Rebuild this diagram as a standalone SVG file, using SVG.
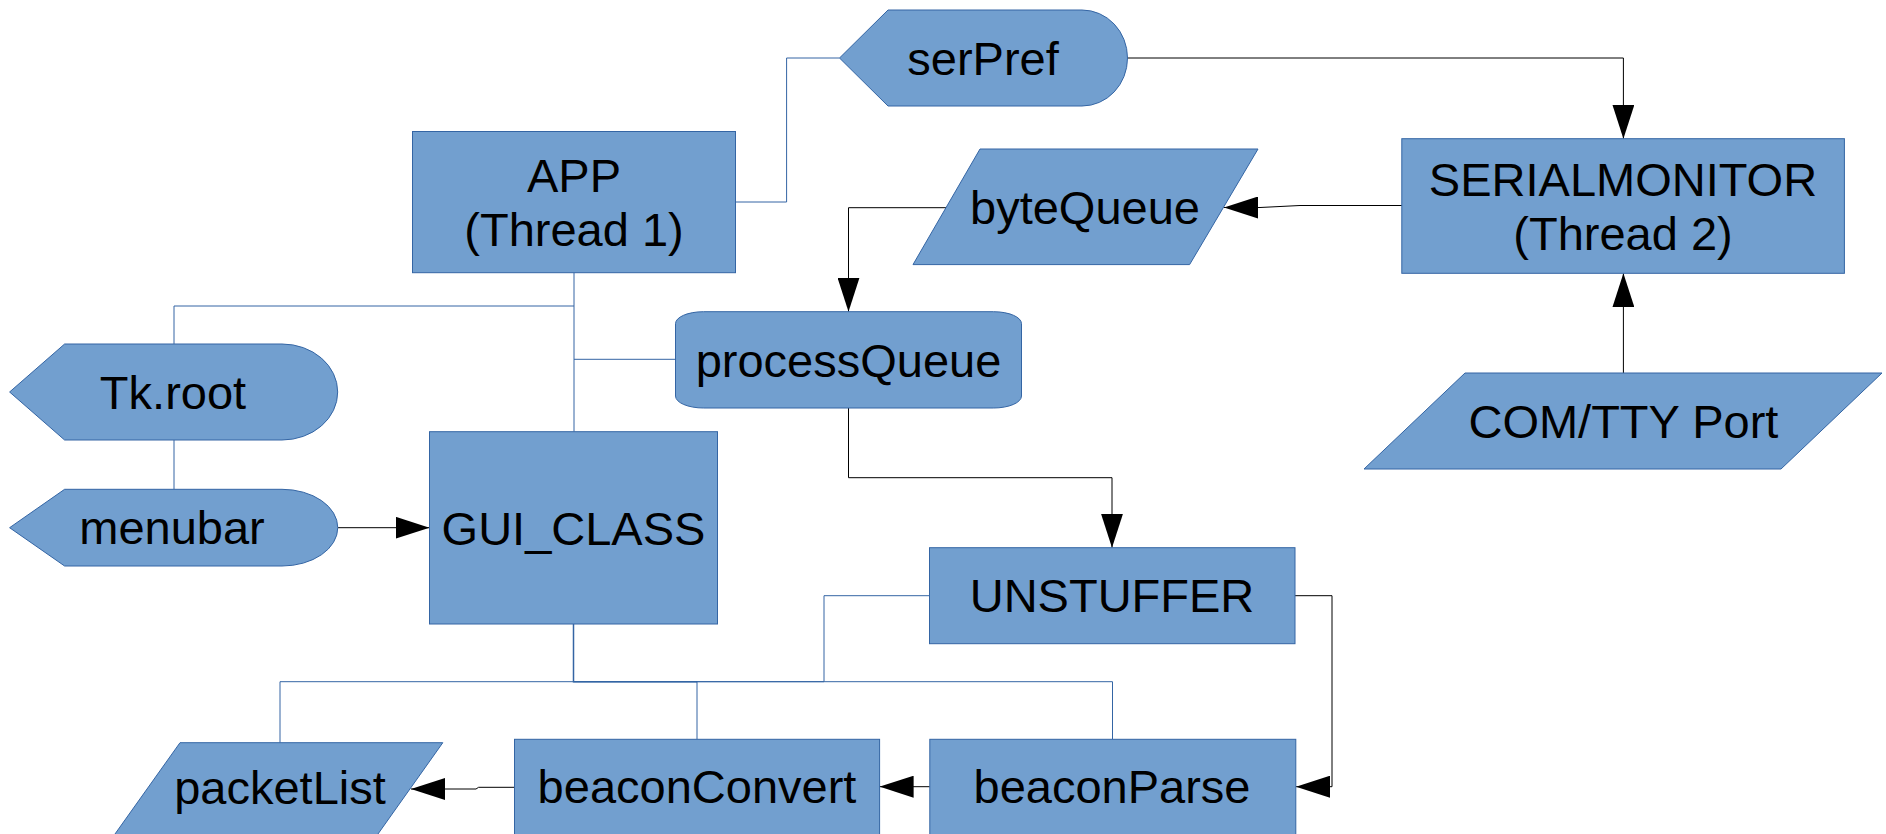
<svg xmlns="http://www.w3.org/2000/svg" width="1886" height="834" viewBox="0 0 1886 834">
<style>
.n{fill:#729fcf;stroke:#3465a4;stroke-width:1}
.t{font-family:"Liberation Sans",Arial,sans-serif;font-size:47px;fill:#000;text-anchor:middle}
.b{fill:none;stroke:#3465a4;stroke-width:1}
.k{fill:none;stroke:#000;stroke-width:1;marker-end:url(#ar)}
</style>
<defs>
<marker id="ar" markerUnits="userSpaceOnUse" markerWidth="34" markerHeight="22" refX="34" refY="11" orient="auto">
<path d="M0,0 L34,11 L0,22 Z" fill="#000"/>
</marker>
</defs>
<rect width="1886" height="834" fill="#fff"/>
<g id="connectors">
<path class="b" d="M735,202 H786.6 V58 H839.5"/>
<path class="k" d="M1127.5,58 H1623.4 V138.7"/>
<path class="k" d="M1402,205.5 H1300 L1260,207.5 H1224"/>
<path class="k" d="M1623.4,373 V273.3"/>
<path class="k" d="M946,207.7 H848.5 V311.7"/>
<path class="b" d="M574,272.7 V431.7"/>
<path class="b" d="M574,306 H174 V344"/>
<path class="b" d="M574,359.3 H675.5"/>
<path class="b" d="M174,440 V489.3"/>
<path class="k" d="M337.7,527.7 H429.5"/>
<path class="k" d="M848.5,408 V477.7 H1112 V547.7"/>
<path class="b" d="M929.5,595.7 H824 V681.7 H573.5"/>
<path class="b" style="stroke-width:1.5" d="M573.5,624 V681.7 H697"/>
<path class="b" d="M280,742.7 V681.7 H1112.5 V739.3"/>
<path class="b" d="M697,681.7 V739.3"/>
<path class="k" d="M1295,595.7 H1332 V786.7 H1296"/>
<path class="k" d="M929.8,786.7 H879.6"/>
<path class="k" d="M514.5,787.3 H478.6 L476,789 H411"/>
</g>
<g id="serPref">
<path class="n" d="M839.5,58 L888,10 L1082,10 A45.5,48 0 0 1 1082,106 L888,106 Z"/>
<text class="t" x="983" y="75">serPref</text>
</g>
<g id="app">
<rect class="n" x="412.5" y="131.5" width="323" height="141.2"/>
<text class="t" x="574" y="192">APP</text>
<text class="t" x="574" y="246">(Thread 1)</text>
</g>
<g id="byteQueue">
<path class="n" d="M980,149 L1258,149 L1189.6,264.6 L913,264.6 Z"/>
<text class="t" x="1085" y="223.5">byteQueue</text>
</g>
<g id="serialmonitor">
<rect class="n" x="1401.8" y="138.7" width="442.6" height="134.6"/>
<text class="t" x="1623" y="195.7">SERIALMONITOR</text>
<text class="t" x="1623" y="250">(Thread 2)</text>
</g>
<g id="comtty">
<path class="n" d="M1465,373 L1882,373 L1781,469 L1364,469 Z"/>
<text class="t" x="1623.4" y="438">COM/TTY Port</text>
</g>
<g id="processQueue">
<path class="n" d="M703.5,311.7 L993.5,311.7 A28,12 0 0 1 1021.5,323.7 L1021.5,396 A28,12 0 0 1 993.5,408 L703.5,408 A28,12 0 0 1 675.5,396 L675.5,323.7 A28,12 0 0 1 703.5,311.7 Z"/>
<text class="t" x="848.5" y="376.5">processQueue</text>
</g>
<g id="tkroot">
<path class="n" d="M9.6,392 L64.6,344 L282,344 A55.7,48 0 0 1 282,440 L64.6,440 Z"/>
<text class="t" x="173" y="408.5">Tk.root</text>
</g>
<g id="menubar">
<path class="n" d="M9.6,527.7 L64.6,489.3 L282,489.3 A55.7,38.3 0 0 1 282,566 L64.6,566 Z"/>
<text class="t" x="172" y="544">menubar</text>
</g>
<g id="gui">
<rect class="n" x="429.5" y="431.7" width="288" height="192.3"/>
<text class="t" x="573.5" y="544.5">GUI_CLASS</text>
</g>
<g id="unstuffer">
<rect class="n" x="929.5" y="547.7" width="365.5" height="96"/>
<text class="t" x="1112" y="612">UNSTUFFER</text>
</g>
<g id="packetList">
<path class="n" d="M180,742.7 L442.8,742.7 L373,841 L110,841 Z"/>
<text class="t" x="280" y="804">packetList</text>
</g>
<g id="beaconConvert">
<rect class="n" x="514.5" y="739.3" width="365.1" height="110"/>
<text class="t" x="697" y="803">beaconConvert</text>
</g>
<g id="beaconParse">
<rect class="n" x="929.8" y="739.3" width="366" height="110"/>
<text class="t" x="1112" y="803">beaconParse</text>
</g>
</svg>
